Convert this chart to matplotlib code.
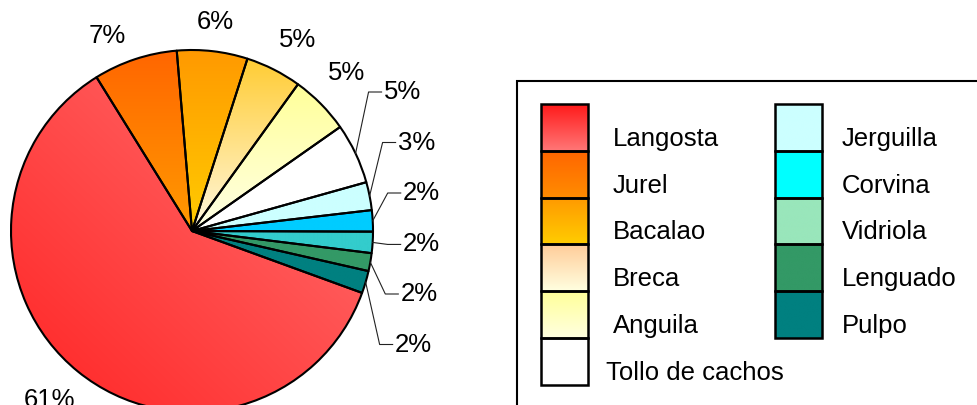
import matplotlib.pyplot as plt
import matplotlib.patches as mpatches
import numpy as np
from matplotlib.colors import to_rgb

plt.rcParams['font.family'] = ['Liberation Sans', 'DejaVu Sans']

species = ["Langosta", "Jurel", "Bacalao", "Breca", "Anguila", "Tollo de cachos",
           "Jerguilla", "Corvina", "Vidriola", "Lenguado", "Pulpo"]
shares = [60.6, 7.5, 6.3, 5.0, 5.3, 5.4, 2.5, 1.9, 1.9, 1.6, 2.0]
pct_labels = ["61%", "7%", "6%", "5%", "5%", "5%", "3%", "2%", "2%", "2%", "2%"]

# (start colour, end colour) of each gradient, pie and legend
pie_grad = [("#FF2424", "#FF7272"), ("#FF6600", "#FF9A00"), ("#FF9900", "#FFCC00"),
            ("#FFCC33", "#FFF8E0"), ("#FFFF99", "#FFFFE6"), ("#FFFFFF", "#FFFFFF"),
            ("#CCFFFF", "#CCFFFF"), ("#00CCFF", "#00CCFF"), ("#33CCCC", "#33CCCC"),
            ("#339966", "#339966"), ("#008080", "#008080")]
leg_grad = [("#FF1A1A", "#FF7777"), ("#FF6600", "#FF8C00"), ("#FF9900", "#FFCC00"),
            ("#FFCC99", "#FFFFE0"), ("#FFFF99", "#FFFFE0"), ("#FFFFFF", "#FFFFFF"),
            ("#CCFFFF", "#CCFFFF"), ("#00FFFF", "#00FFFF"), ("#99E6BB", "#99E6BB"),
            ("#339966", "#339966"), ("#008080", "#008080")]

W, H = 978, 405
fig = plt.figure(figsize=(W / 100, H / 100), dpi=100)
ax = fig.add_axes([0, 0, 1, 1])


def grad_image(c0, c1, diagonal=False, n=200):
    a, b = np.array(to_rgb(c0)), np.array(to_rgb(c1))
    if diagonal:
        # c0 at lower-left, c1 at upper-right
        xx, yy = np.meshgrid(np.linspace(0, 1, n), np.linspace(0, 1, n))
        t = (xx + (1 - yy)) / 2
    else:
        # c0 at top, c1 at bottom
        t = np.linspace(0, 1, n)[:, None]
    t = t[..., None]
    return a * (1 - t) + b * t


cx, cy, R = 192, H - 231, 181
wedges, _ = ax.pie(shares, startangle=-20, counterclock=False, radius=R, center=(cx, cy),
                   colors=[c[1] for c in pie_grad],
                   wedgeprops=dict(edgecolor="none", linewidth=0, zorder=1))

for i, w in enumerate(wedges):
    ext = w.get_path().get_extents()
    img = grad_image(*pie_grad[i], diagonal=(i == 0))
    im = ax.imshow(img, extent=(ext.x0, ext.x1, ext.y0, ext.y1), origin="upper",
                   aspect="auto", zorder=2, interpolation="bilinear")
    im.set_clip_path(w)
    ax.add_patch(mpatches.PathPatch(w.get_path(), fill=False, ec="black", lw=1.5, zorder=4,
                                    joinstyle="round"))

# percentage labels
out_r = [1.22, 1.175, 1.16, 1.207, 1.219]
out_dang = [-1, 5, 0, -2, 1]
elbow_dx = [None, None, None, None, None, 13, 13, 15, 15, 15, 14]
for i, w in enumerate(wedges):
    mid = (w.theta1 + w.theta2) / 2
    if i <= 4:
        r = out_r[i] * R
        a = np.deg2rad(mid + out_dang[i])
        ax.text(cx + r * np.cos(a), cy + r * np.sin(a), pct_labels[i],
                ha="center", va="center", fontsize=18.5, zorder=5)
    else:
        k = i - 5
        a = np.deg2rad(mid)
        x0, y0 = cx + R * np.cos(a), cy + R * np.sin(a)
        ty = H - (92 + k * 50.5)
        ex = x0 + elbow_dx[i]
        if i == 8:
            ty = y0 - 2
        ax.plot([x0, ex, ex + 13], [y0, ty, ty], color="#222222", lw=0.8, zorder=5)
        ax.text(ex + 15, ty, pct_labels[i], ha="left", va="center", fontsize=18.5, zorder=5)

# legend box
ax.add_patch(mpatches.Rectangle((517, -20), 600, H - 81 + 20, fill=False, ec="black",
                                lw=1.5, zorder=3, clip_on=False))
sw_w, sw_h, top0 = 47, 46.8, 104
for i, name in enumerate(species):
    col, row = (0, i) if i < 6 else (1, i - 6)
    sx = 541 if col == 0 else 775
    top = top0 + row * sw_h
    y0, y1 = H - (top + sw_h), H - top
    ax.imshow(grad_image(*leg_grad[i]), extent=(sx, sx + sw_w, y0, y1), origin="upper",
              aspect="auto", zorder=3, interpolation="bilinear")
    ax.add_patch(mpatches.Rectangle((sx, y0), sw_w, sw_h, fill=False, ec="black", lw=1.8,
                                    zorder=4))
    tx = 613 if col == 0 else 842
    if name == "Tollo de cachos":
        tx = 606
    ax.text(tx, y0 + 5, name, ha="left", va="baseline", fontsize=18.5, zorder=5)

ax.set_xlim(0, W)
ax.set_ylim(0, H)
ax.axis("off")
fig.savefig("out.png", dpi=100, facecolor="white")
